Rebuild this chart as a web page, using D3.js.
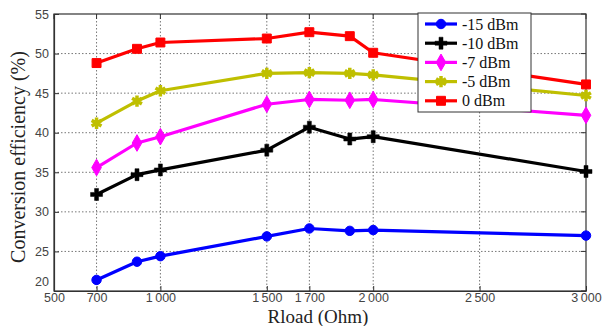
<!DOCTYPE html>
<html><head><meta charset="utf-8">
<script src="https://cdn.jsdelivr.net/npm/d3@7"></script>
<style>body{margin:0;background:#fff}svg{display:block}</style>
</head><body>
<svg id="c" width="602" height="326"></svg>
<script>
const rload = [700, 890, 1000, 1500, 1700, 1890, 2000, 3000];
const seriesNames = ["-15 dBm", "-10 dBm", "-7 dBm", "-5 dBm", "0 dBm"];
const vM15 = [21.4, 23.7, 24.4, 26.9, 27.9, 27.6, 27.7, 27.0];
const vM10 = [32.2, 34.7, 35.3, 37.8, 40.7, 39.2, 39.5, 35.1];
const vM7  = [35.6, 38.7, 39.5, 43.6, 44.2, 44.1, 44.2, 42.2];
const vM5  = [41.2, 44.0, 45.3, 47.5, 47.6, 47.5, 47.3, 44.7];
const v0   = [48.8, 50.6, 51.4, 51.9, 52.7, 52.2, 50.1, 46.1];
const xTicks = [500, 700, 1000, 1500, 1700, 2000, 2500, 3000];
const yTicks = [20, 25, 30, 35, 40, 45, 50, 55];
const colors = ["#0000ff", "#000000", "#ff00ff", "#bfbf00", "#ff0000"];
const allValues = [vM15, vM10, vM7, vM5, v0];

const svg = d3.select("#c");
const L = 54, R = 586, T = 14, B = 291;
const x = d3.scaleLinear().domain([500, 3000]).range([L, R]);
const y = d3.scaleLinear().domain([20, 55]).range([B, T]);
const fmt = v => { const s = String(v); return s.length > 3 ? s.slice(0, s.length - 3) + "\u2009" + s.slice(-3) : s; };

// grid
const g = svg.append("g");
g.selectAll(".gx").data(xTicks.slice(1, -1)).enter().append("line")
  .attr("x1", d => x(d)).attr("x2", d => x(d)).attr("y1", T).attr("y2", B)
  .attr("stroke", "#777").attr("stroke-width", 1).attr("stroke-dasharray", "1.5,2");
g.selectAll(".gy").data(yTicks.slice(1, -1)).enter().append("line")
  .attr("y1", d => y(d)).attr("y2", d => y(d)).attr("x1", L).attr("x2", R)
  .attr("stroke", "#777").attr("stroke-width", 1).attr("stroke-dasharray", "1.5,2");

// axes
const xAxis = d3.axisBottom(x).tickValues(xTicks).tickFormat(fmt).tickSizeInner(-5).tickSizeOuter(0).tickPadding(2);
const yAxis = d3.axisLeft(y).tickValues(yTicks).tickSizeInner(-5).tickSizeOuter(0).tickPadding(5);
const gx = svg.append("g").attr("transform", `translate(0,${B})`).call(xAxis);
const gy = svg.append("g").attr("transform", `translate(${L},0)`).call(yAxis);
[gx, gy].forEach(a => {
  a.selectAll("text").attr("font-family", "Liberation Sans, Arial, sans-serif").attr("font-size", 12.5).attr("fill", "#444");
  a.selectAll(".domain").attr("stroke", "#333").attr("stroke-width", 1.2);
  a.selectAll(".tick line").attr("stroke", "#333");
});
gy.selectAll(".tick").filter(d => d === 20).select("text").attr("dy", "-0.45em");
// top & right ticks + box
svg.append("rect").attr("x", L).attr("y", T).attr("width", R - L).attr("height", B - T)
  .attr("fill", "none").attr("stroke", "#333").attr("stroke-width", 1.2);
svg.append("g").selectAll("line").data(xTicks).enter().append("line")
  .attr("x1", d => x(d)).attr("x2", d => x(d)).attr("y1", T).attr("y2", T + 5).attr("stroke", "#333");
svg.append("g").selectAll("line").data(yTicks).enter().append("line")
  .attr("y1", d => y(d)).attr("y2", d => y(d)).attr("x1", R).attr("x2", R - 5).attr("stroke", "#333");

// markers
const symbols = [d3.symbolCircle, d3.symbolCross, d3.symbolDiamond, d3.symbolAsterisk, d3.symbolSquare];
const sizes = [70, 80, 80, 90, 80];
function drawMarker(sel, i, cx, cy) {
  const s = d3.symbol().type(symbols[i]).size(sizes[i]);
  const isStroke = i === 3;
  sel.append("path").attr("d", s()).attr("transform", `translate(${cx},${cy})`)
    .attr("fill", isStroke ? "none" : colors[i]).attr("stroke", colors[i])
    .attr("stroke-width", isStroke ? 3.5 : (i === 1 ? 0.5 : 1));
}

const line = d3.line().x((d, j) => x(rload[j])).y(d => y(d));
allValues.forEach((vals, i) => {
  const sg = svg.append("g");
  sg.append("path").datum(vals).attr("d", line).attr("fill", "none")
    .attr("stroke", colors[i]).attr("stroke-width", 3.2).attr("stroke-linejoin", "round");
  vals.forEach((v, j) => drawMarker(sg, i, x(rload[j]), y(v)));
});

// legend
const lg = svg.append("g");
lg.append("rect").attr("x", 418).attr("y", 13).attr("width", 113).attr("height", 99)
  .attr("fill", "#fff").attr("stroke", "#333").attr("stroke-width", 1);
seriesNames.forEach((n, i) => {
  const ly = 24 + i * 19.2;
  lg.append("line").attr("x1", 425).attr("x2", 457).attr("y1", ly).attr("y2", ly)
    .attr("stroke", colors[i]).attr("stroke-width", 3.2);
  drawMarker(lg, i, 441, ly);
  lg.append("text").attr("x", 462).attr("y", ly).attr("dy", "0.35em")
    .attr("font-family", "Liberation Serif, Times New Roman, serif").attr("font-size", 16)
    .attr("fill", "#111").text(n);
});

// titles
svg.append("text").attr("x", 318).attr("y", 323).attr("text-anchor", "middle")
  .attr("font-family", "Liberation Serif, Times New Roman, serif").attr("font-size", 19)
  .attr("fill", "#222").text("Rload (Ohm)");
svg.append("text").attr("transform", `translate(25,157) rotate(-90)`).attr("text-anchor", "middle")
  .attr("font-family", "Liberation Serif, Times New Roman, serif").attr("font-size", 20)
  .attr("fill", "#222").text("Conversion efficiency (%)");
</script>
</body></html>
